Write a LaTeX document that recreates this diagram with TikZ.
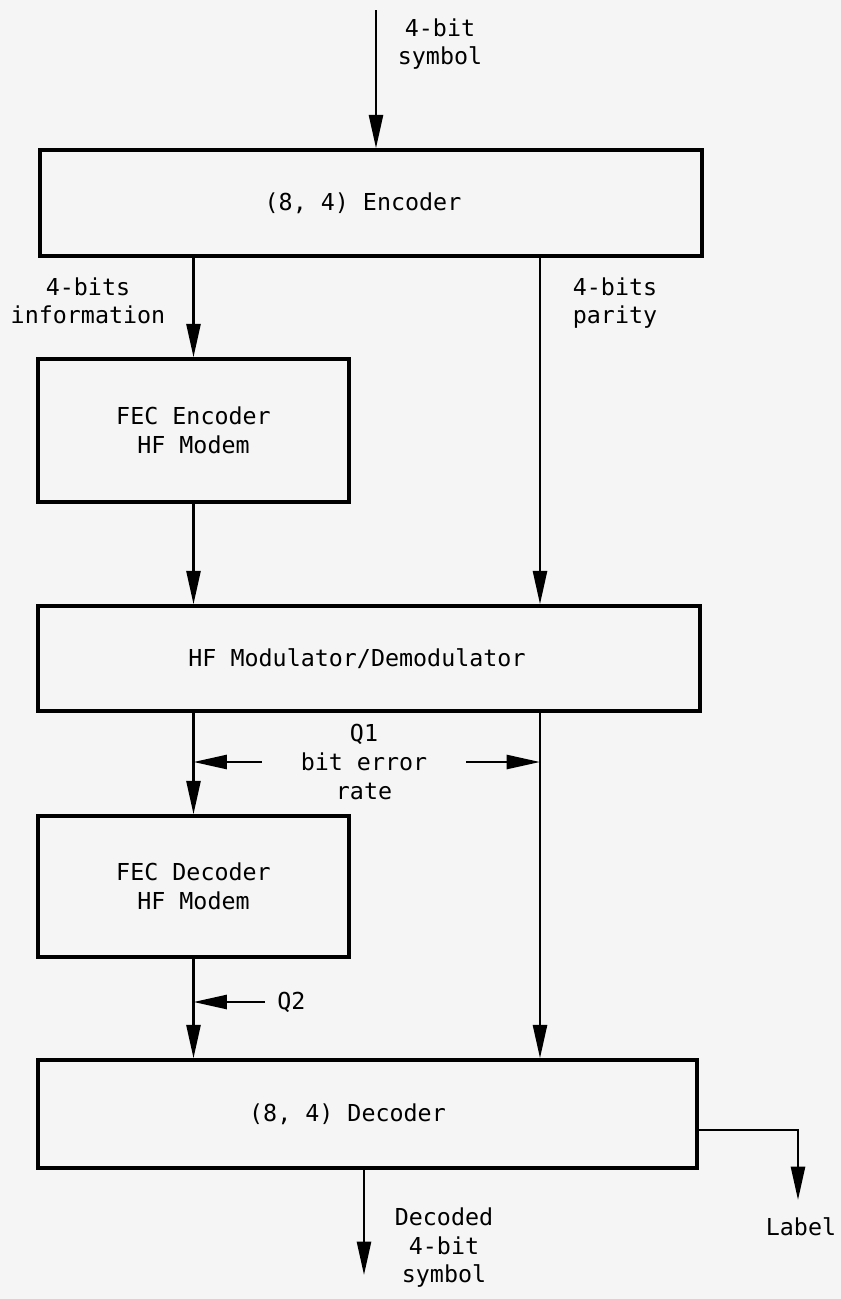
\documentclass[tikz,border=0pt]{standalone}
\usepackage{fontspec}
\setmainfont{DejaVu Sans Mono}
\usetikzlibrary{arrows.meta, positioning, calc}
\usepackage{xcolor}
\definecolor{paper}{RGB}{245, 245, 245}

\begin{document}
\begin{tikzpicture}[
  x=0.75pt, y=-0.75pt,
  every node/.style={font=\fontsize{17.5pt}{21.4pt}\selectfont},
  blk/.style={rectangle, draw=black, line width=2.6pt, minimum width=#1,
              inner sep=0pt, align=center},
  lbl/.style={align=center, inner sep=0pt},
  arr/.style={-{Triangle[length=25pt, width=10.5pt]}, line width=1.9pt}
]
\fill[paper] (0,0) rectangle (841,1299);
\useasboundingbox (0,0) rectangle (841,1299);

\node[blk=496.5pt,  minimum height=79.5pt]  (enc)    at (371,203)   {(8, 4) Encoder\hspace*{12pt}};
\node[blk=233.25pt, minimum height=107.25pt] (fecenc) at (193.5,430.5) {FEC Encoder\\HF Modem};
\node[blk=496.5pt,  minimum height=78.75pt] (mod)    at (369,658.5) {HF Modulator/Demodulator\hspace*{18pt}};
\node[blk=233.25pt, minimum height=105.75pt] (fecdec) at (193.5,886.5) {FEC Decoder\\HF Modem};
\node[blk=494.25pt, minimum height=81pt]    (dec)    at (367.5,1114) {(8, 4) Decoder\hspace*{30pt}};

\coordinate (symin)  at (376,10);
\coordinate (par)    at (540,0);
\coordinate (symout) at (364,1275);
\coordinate (lblout) at (798,1200);

\node[lbl] (symtxt)  at (440,44)   {4-bit\\symbol};
\node[lbl] (infotxt) at (88,301)   {4-bits\\information};
\node[lbl] (partxt)  at (615,303)  {4-bits\\parity};
\node[lbl] (q1)      at (364,762)  {Q1\\bit error\\rate};
\node[lbl, anchor=west] (q2) at (277,1002) {Q2};
\node[lbl] (dectxt)  at (444,1248) {Decoded\\4-bit\\symbol};
\node[lbl] (lbltxt)  at (801,1227) {Label};

\draw[arr] (symin) -- (symin |- enc.north);
\draw[arr] (fecenc.north |- enc.south) -- (fecenc.north);
\draw[arr] (enc.south -| par) -- (mod.north -| par);
\draw[arr] (fecenc.south) -- (fecenc.south |- mod.north);
\draw[arr] (mod.south -| fecdec.north) -- (fecdec.north);
\draw[arr] (mod.south -| par) -- (dec.north -| par);
\draw[arr] (fecdec.south) -- (fecdec.south |- dec.north);
\draw[arr] ([xshift=-29pt]q1.west) -- (q1.west -| fecdec.north);
\draw[arr] ([xshift=29pt]q1.east) -- (q1.east -| par);
\draw[arr] ([xshift=-9pt]q2.west) -- (q2.west -| fecdec.south);
\draw[arr] (dec.south -| symout) -- (symout);
\draw[arr] ([yshift=-12pt]dec.east) -| (lblout);
\end{tikzpicture}
\end{document}
